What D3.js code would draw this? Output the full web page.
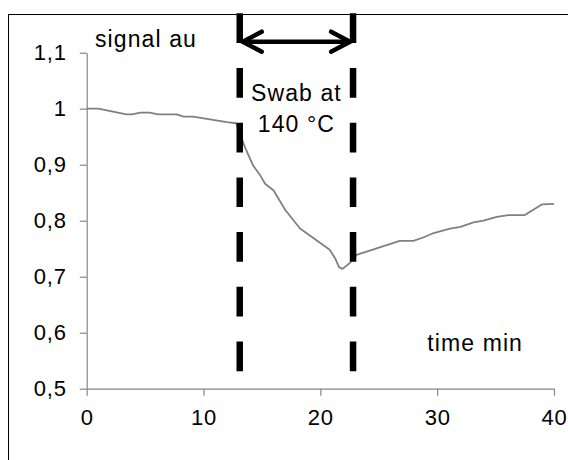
<!DOCTYPE html>
<html>
<head>
<meta charset="utf-8">
<script src="https://cdn.jsdelivr.net/npm/d3@7"></script>
<style>
    body { margin: 0; background: #fff; }
    svg { display: block; font-family: "Liberation Sans", Arial, sans-serif; }
</style>
</head>
<body>
<svg id="chart" width="568" height="460"></svg>
<script>
"use strict";

// time in minutes
var time = [0, 1, 3.4, 3.85, 4.6, 5.4, 6.1, 7.7, 8.3, 9.1, 12.0, 12.8,
    13.55, 14.26, 14.85, 15.27, 16.0, 17.0, 18.26, 19.4, 20.8, 21.26, 21.6, 21.9,
    22.5, 23.1, 26.8, 27.96, 28.8, 29.7, 31.1, 32.0, 33.1, 33.96, 35.1, 36.1,
    37.5, 37.95, 38.96, 40];

// signal in arbitrary units
var signal = [1.0, 1.0, 0.99, 0.99, 0.993, 0.993, 0.99, 0.99, 0.986, 0.986, 0.976, 0.974,
    0.931, 0.898, 0.881, 0.866, 0.854, 0.819, 0.786, 0.769, 0.748, 0.733, 0.717, 0.714,
    0.724, 0.739, 0.764, 0.764, 0.770, 0.778, 0.786, 0.789, 0.797, 0.800, 0.807, 0.810,
    0.810, 0.816, 0.829, 0.830];

var xTicks = [0, 10, 20, 30, 40];
var yTicks = [0.5, 0.6, 0.7, 0.8, 0.9, 1.0, 1.1];

// swab window (minutes)
var swab = [13.1, 22.8];

var svg = d3.select("#chart");

var margin = {left: 86.7, right: 14, top: 52.7, bottom: 71.3};
var width = 568 - margin.left - margin.right;
var height = 460 - margin.top - margin.bottom;

var x = d3.scaleLinear().domain([0, 40]).range([margin.left, margin.left + width]);
var y = d3.scaleLinear().domain([0.5, 1.1]).range([margin.top + height, margin.top]);

// outer frame (runs off the right and bottom of the picture)
svg.append("rect")
    .attr("x", 8.5).attr("y", 14.5)
    .attr("width", 600).attr("height", 500)
    .attr("fill", "none")
    .attr("stroke", "#000")
    .attr("stroke-width", 1);

var fmt = function(d) { return String(+d.toFixed(1)).replace(".", ","); };

var xAxis = svg.append("g")
    .attr("transform", "translate(0," + y(0.5) + ")")
    .call(d3.axisBottom(x).tickValues(xTicks).tickSize(7).tickSizeOuter(0).tickPadding(8));

var yAxis = svg.append("g")
    .attr("transform", "translate(" + x(0) + ",0)")
    .call(d3.axisLeft(y).tickValues(yTicks).tickFormat(fmt).tickSize(7).tickSizeOuter(0).tickPadding(13));

[xAxis, yAxis].forEach(function(a) {
    a.selectAll("path, line").attr("stroke", "#868686").attr("stroke-width", 1.2);
    a.selectAll("text")
        .attr("fill", "#000")
        .style("font-size", "22px")
        .style("letter-spacing", "0.8px")
        .style("font-family", "'Liberation Sans', Arial, sans-serif");
});
xAxis.selectAll("text").attr("dy", "0.95em");

// the signal trace
var line = d3.line()
    .x(function(d, i) { return x(time[i]); })
    .y(function(d) { return y(d); });

svg.append("path")
    .datum(signal)
    .attr("d", line)
    .attr("fill", "none")
    .attr("stroke", "#808080")
    .attr("stroke-width", 1.8)
    .attr("stroke-linejoin", "round");

// dashed swab markers
svg.selectAll(".swab")
    .data(swab)
    .enter()
    .append("line")
    .attr("class", "swab")
    .attr("x1", function(d) { return x(d); })
    .attr("x2", function(d) { return x(d); })
    .attr("y1", 13.3)
    .attr("y2", 373)
    .attr("stroke", "#000")
    .attr("stroke-width", 6.5)
    .attr("stroke-dasharray", "29.7,25");

// double arrow between the markers
var ay = 41.7, ah = 19, aw = 10;
var ax0 = x(swab[0]) + 3, ax1 = x(swab[1]) - 3;
svg.append("line")
    .attr("x1", ax0).attr("x2", ax1)
    .attr("y1", ay).attr("y2", ay)
    .attr("stroke", "#000").attr("stroke-width", 4.5);
svg.selectAll(".head")
    .data([[ax0, 1], [ax1, -1]])
    .enter()
    .append("path")
    .attr("class", "head")
    .attr("d", function(d) {
        return "M" + (d[0] + d[1] * ah) + "," + (ay - aw) +
            "L" + d[0] + "," + ay +
            "L" + (d[0] + d[1] * ah) + "," + (ay + aw);
    })
    .attr("fill", "none")
    .attr("stroke", "#000")
    .attr("stroke-width", 4.5)
    .attr("stroke-linecap", "round");

// labels
var cx = (x(swab[0]) + x(swab[1])) / 2;
var labels = [
    {t: "signal au", x: 95, y: 46.7, a: "start"},
    {t: "Swab at", x: cx, y: 100.7, a: "middle"},
    {t: "140 °C", x: cx, y: 131.5, a: "middle"},
    {t: "time min", x: 427.3, y: 350.7, a: "start"}
];
svg.selectAll(".lbl")
    .data(labels)
    .enter()
    .append("text")
    .attr("class", "lbl")
    .attr("x", function(d) { return d.x; })
    .attr("y", function(d) { return d.y; })
    .attr("text-anchor", function(d) { return d.a; })
    .style("font-size", "23px")
    .style("letter-spacing", "1.1px")
    .attr("fill", "#000")
    .text(function(d) { return d.t; });
</script>
</body>
</html>
